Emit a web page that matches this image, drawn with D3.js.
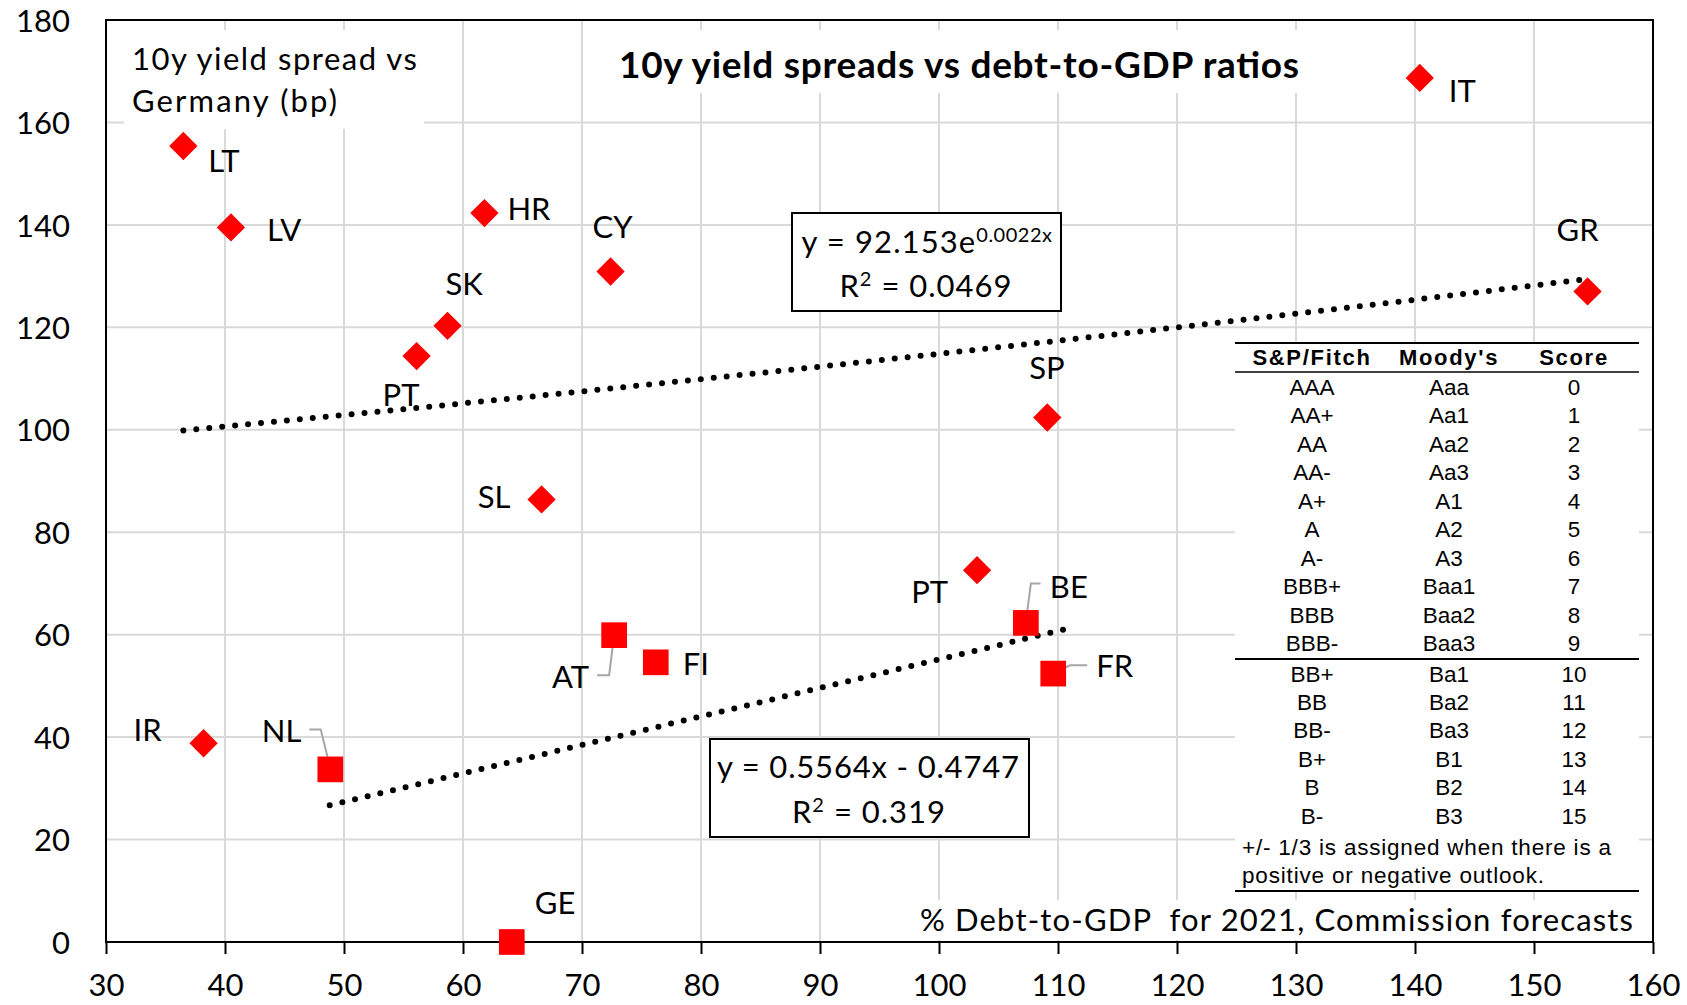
<!DOCTYPE html>
<html lang="en">
<head>
  <meta charset="UTF-8" />
  <title>10y yield spreads vs debt-to-GDP ratios</title>
  <script src="https://d3js.org/d3.v7.min.js"></script>
  <style>
    body { margin: 0; padding: 0; background: #fff; }
    svg { display: block; font-family: Lato, "Open Sans", sans-serif; }
    .grid line { stroke: #d9d9d9; stroke-width: 2; }
    .tick-label { font-size: 31px; fill: #000; }
    .point-label { font-size: 31px; fill: #000; }
    .trend { fill: none; stroke: #000; stroke-width: 6; stroke-linecap: round; stroke-dasharray: 0 13; }
    .leader { fill: none; stroke: #a6a6a6; stroke-width: 2; }
    .tbl { font-family: "Liberation Sans", Arial, sans-serif; font-size: 22.5px; fill: #000; }
    .tbl-head { font-family: "Liberation Sans", Arial, sans-serif; font-size: 22px; font-weight: bold; letter-spacing: 1.7px; fill: #000; }
  </style>
</head>
<body>
  <svg width="1687" height="1005"></svg>

  <script>
    // --- data ---
    const countries = ["LT", "LV", "HR", "CY", "SK", "PT", "SL", "IT", "GR", "SP", "PT", "IR",
                       "NL", "GE", "AT", "FI", "BE", "FR"];
    const debtToGdp = [36.5, 40.5, 61.8, 72.4, 58.7, 56.1, 66.6, 140.4, 154.5, 109.1, 103.2, 38.2,
                       48.85, 64.1, 72.7, 76.2, 107.3, 109.6];
    const spreadBp  = [155.4, 139.5, 142.3, 130.9, 120.3, 114.4, 86.4, 168.7, 127.0, 102.4, 72.6, 38.8,
                       33.7, 0, 59.9, 54.6, 62.3, 52.4];
    const markerType = ["diamond", "diamond", "diamond", "diamond", "diamond", "diamond", "diamond",
                        "diamond", "diamond", "diamond", "diamond", "diamond",
                        "square", "square", "square", "square", "square", "square"];

    const xTicks = [30, 40, 50, 60, 70, 80, 90, 100, 110, 120, 130, 140, 150, 160];
    const yTicks = [0, 20, 40, 60, 80, 100, 120, 140, 160, 180];

    // trendlines as given by their equations
    const expTrend = [92.153, 0.0022];
    const expRange = [36.5, 154.3];
    const linTrend = [0.5564, -0.4747];
    const linRange = [48.8, 111.4];

    const spFitch = ["AAA", "AA+", "AA", "AA-", "A+", "A", "A-", "BBB+", "BBB", "BBB-",
                     "BB+", "BB", "BB-", "B+", "B", "B-"];
    const moodys  = ["Aaa", "Aa1", "Aa2", "Aa3", "A1", "A2", "A3", "Baa1", "Baa2", "Baa3",
                     "Ba1", "Ba2", "Ba3", "B1", "B2", "B3"];
    const scores  = [0, 1, 2, 3, 4, 5, 6, 7, 8, 9, 10, 11, 12, 13, 14, 15];

    // label placement (px offsets from the marker), anchor, optional leader line
    const labelLayout = [
      { dx: 25, dy: 26, a: "start" }, { dx: 36, dy: 14, a: "start" }, { dx: 23, dy: 7, a: "start" },
      { dx: -18, dy: -34, a: "start" }, { dx: -2, dy: -31, a: "start" }, { dx: -34, dy: 50, a: "start" },
      { dx: -31, dy: 9, a: "end" }, { dx: 29, dy: 24, a: "start" }, { dx: -31, dy: -50, a: "start" },
      { dx: -18, dy: -38, a: "start" }, { dx: -29, dy: 33, a: "end" }, { dx: -42, dy: -2, a: "end" },
      { dx: -29, dy: -27, a: "end", lead: [[0, -1], [-9.6, -40], [-21, -40]] },
      { dx: 23, dy: -28, a: "start" },
      { dx: -25, dy: 53, a: "end", lead: [[0, 0], [-5, 40], [-17, 40]] },
      { dx: 27, dy: 13, a: "start" },
      { dx: 24, dy: -25, a: "start", lead: [[0, -1], [5, -39.4], [14.7, -39.4]] },
      { dx: 43, dy: 3, a: "start", lead: [[0, 0], [16.7, -8.3], [34, -8.3]] }
    ];

    const svg = d3.select("svg");
    const margin = { left: 106, top: 20, right: 34, bottom: 63 };
    const W = 1687, H = 1005;

    const x = d3.scaleLinear().domain([30, 160]).range([margin.left, W - margin.right]);
    const y = d3.scaleLinear().domain([0, 180]).range([H - margin.bottom, margin.top]);

    // gridlines
    const grid = svg.append("g").attr("class", "grid");
    grid.selectAll(".gx").data(xTicks.slice(1, -1)).enter().append("line")
      .attr("x1", d => x(d)).attr("x2", d => x(d))
      .attr("y1", y(180)).attr("y2", y(0));
    grid.selectAll(".gy").data(yTicks.slice(1, -1)).enter().append("line")
      .attr("x1", x(30)).attr("x2", x(160))
      .attr("y1", d => y(d)).attr("y2", d => y(d));

    // white backgrounds of the text boxes (they hide the grid)
    svg.append("rect").attr("x", 124).attr("y", 30).attr("width", 300).attr("height", 99).attr("fill", "#fff");
    svg.append("rect").attr("x", 600).attr("y", 30).attr("width", 715).attr("height", 63).attr("fill", "#fff");
    svg.append("rect").attr("x", 915).attr("y", 900).attr("width", 725).attr("height", 40).attr("fill", "#fff");
    svg.append("rect").attr("x", 1235).attr("y", 343).attr("width", 404).attr("height", 548).attr("fill", "#fff");

    // plot frame
    svg.append("rect")
      .attr("x", x(30)).attr("y", y(180))
      .attr("width", x(160) - x(30)).attr("height", y(0) - y(180))
      .attr("fill", "none").attr("stroke", "#000").attr("stroke-width", 2);

    // axes
    const xAxis = svg.append("g")
      .attr("transform", `translate(0,${y(0)})`)
      .call(d3.axisBottom(x).tickValues(xTicks).tickSize(12).tickSizeOuter(0));
    xAxis.select(".domain").remove();
    xAxis.selectAll(".tick line").attr("stroke", "#000").attr("stroke-width", 2);
    xAxis.selectAll(".tick text").attr("class", "tick-label").attr("y", 54).attr("dy", 0);
    xAxis.attr("font-family", null).attr("font-size", null);

    const yAxis = svg.append("g")
      .attr("transform", `translate(${x(30)},0)`)
      .call(d3.axisLeft(y).tickValues(yTicks).tickSize(0).tickPadding(36));
    yAxis.select(".domain").remove();
    yAxis.selectAll(".tick text").attr("class", "tick-label").attr("dy", "0.36em");
    yAxis.attr("font-family", null).attr("font-size", null);

    // trendlines
    const expLine = d3.line().x(d => x(d)).y(d => y(expTrend[0] * Math.exp(expTrend[1] * d)));
    const expSteps = d3.range(expRange[0], expRange[1], (expRange[1] - expRange[0]) / 60).concat([expRange[1]]);
    svg.append("path").attr("class", "trend").attr("d", expLine(expSteps));

    const linLine = d3.line().x(d => x(d)).y(d => y(linTrend[0] * d + linTrend[1]));
    svg.append("path").attr("class", "trend").attr("d", linLine(linRange));

    // points
    const pts = countries.map((c, i) => ({
      name: c, gx: debtToGdp[i], gy: spreadBp[i], type: markerType[i], lay: labelLayout[i]
    }));

    svg.selectAll(".leader").data(pts.filter(d => d.lay.lead)).enter().append("polyline")
      .attr("class", "leader")
      .attr("points", d => d.lay.lead.map(p => [x(d.gx) + p[0], y(d.gy) + p[1]].join(",")).join(" "));

    svg.selectAll(".pt").data(pts).enter().append("path")
      .attr("class", "pt")
      .attr("fill", "#ff0000")
      .attr("transform", d => `translate(${x(d.gx)},${y(d.gy)})` + (d.type === "diamond" ? " rotate(45)" : ""))
      .attr("d", d => d3.symbol(d3.symbolSquare, d.type === "diamond" ? 400 : 660)());

    svg.selectAll(".point-label").data(pts).enter().append("text")
      .attr("class", "point-label")
      .attr("x", d => x(d.gx) + d.lay.dx)
      .attr("y", d => y(d.gy) + d.lay.dy)
      .attr("text-anchor", d => d.lay.a)
      .text(d => d.name);

    // titles (textLength stretches Lato to the wider Calibri-like widths of the original)
    svg.append("text").attr("x", 619).attr("y", 78)
      .attr("font-size", 37).attr("font-weight", "bold").attr("textLength", 680)
      .text("10y yield spreads vs debt-to-GDP ratios");

    svg.append("text").attr("x", 132).attr("y", 70).attr("font-size", 31).attr("textLength", 285)
      .text("10y yield spread vs");
    svg.append("text").attr("x", 132).attr("y", 112).attr("font-size", 31).attr("textLength", 205)
      .text("Germany (bp)");

    svg.append("text").attr("x", 920).attr("y", 931).attr("font-size", 31)
      .attr("textLength", 713).attr("xml:space", "preserve")
      .text("% Debt-to-GDP  for 2021, Commission forecasts");

    // equation boxes
    const eq1 = svg.append("g");
    eq1.append("rect").attr("x", 792).attr("y", 213).attr("width", 269).attr("height", 98)
      .attr("fill", "#fff").attr("stroke", "#000").attr("stroke-width", 2);
    const t1 = eq1.append("text").attr("x", 927).attr("y", 253).attr("font-size", 31)
      .attr("text-anchor", "middle");
    t1.append("tspan").attr("letter-spacing", 1.1).text("y = 92.153e");
    t1.append("tspan").attr("font-size", 20).attr("letter-spacing", 0.5).attr("dy", -11).text("0.0022x");
    const t1b = eq1.append("text").attr("x", 926).attr("y", 297).attr("font-size", 31)
      .attr("text-anchor", "middle").attr("letter-spacing", 1);
    t1b.append("tspan").text("R");
    t1b.append("tspan").attr("font-size", 20).attr("dy", -11).text("2");
    t1b.append("tspan").attr("dy", 11).text(" = 0.0469");

    const eq2 = svg.append("g");
    eq2.append("rect").attr("x", 710).attr("y", 739).attr("width", 319).attr("height", 98)
      .attr("fill", "#fff").attr("stroke", "#000").attr("stroke-width", 2);
    eq2.append("text").attr("x", 717).attr("y", 778).attr("font-size", 31).attr("textLength", 302)
      .text("y = 0.5564x - 0.4747");
    const t2b = eq2.append("text").attr("x", 869).attr("y", 823).attr("font-size", 31)
      .attr("text-anchor", "middle").attr("letter-spacing", 1);
    t2b.append("tspan").text("R");
    t2b.append("tspan").attr("font-size", 20).attr("dy", -11).text("2");
    t2b.append("tspan").attr("dy", 11).text(" = 0.319");

    // rating table
    const tbl = svg.append("g");
    const colX = [1312, 1449, 1574];
    const rowY = i => 395 + i * 28.45 + (i >= 10 ? 2 : 0);
    const tLeft = 1235, tRight = 1639;

    [343, 372, 659, 891].forEach((yy, k) => {
      tbl.append("line").attr("x1", tLeft).attr("x2", tRight).attr("y1", yy).attr("y2", yy)
        .attr("stroke", "#000").attr("stroke-width", k === 1 ? 1.5 : 2);
    });

    ["S&P/Fitch", "Moody's", "Score"].forEach((h, k) => {
      tbl.append("text").attr("class", "tbl-head").attr("x", colX[k]).attr("y", 365)
        .attr("text-anchor", "middle").text(h);
    });

    [spFitch, moodys, scores].forEach((col, k) => {
      tbl.selectAll(".c" + k).data(col).enter().append("text")
        .attr("class", "tbl")
        .attr("x", colX[k]).attr("y", (d, i) => rowY(i))
        .attr("text-anchor", "middle")
        .text(d => d);
    });

    tbl.append("text").attr("class", "tbl").attr("x", 1242).attr("y", 855).attr("textLength", 369)
      .text("+/- 1/3 is assigned when there is a");
    tbl.append("text").attr("class", "tbl").attr("x", 1242).attr("y", 883).attr("textLength", 302)
      .text("positive or negative outlook.");
  </script>
</body>
</html>
